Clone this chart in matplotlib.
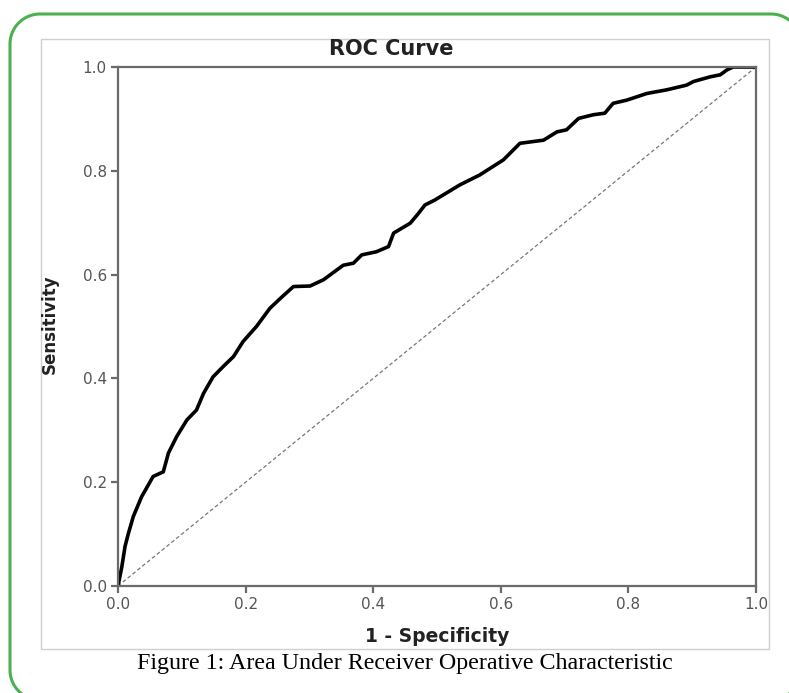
import matplotlib
matplotlib.use("Agg")
import matplotlib.pyplot as plt
import numpy as np
from matplotlib.patches import Polygon, Rectangle

# ROC points (false positive rate, true positive rate)
fpr = [0.0, 0.006, 0.011, 0.016, 0.024, 0.037, 0.055, 0.071, 0.079, 0.092,
       0.108, 0.123, 0.134, 0.149, 0.165, 0.181, 0.196, 0.217, 0.238, 0.257,
       0.275, 0.301, 0.322, 0.353, 0.369, 0.382, 0.405, 0.424, 0.432, 0.458,
       0.471, 0.481, 0.497, 0.536, 0.567, 0.604, 0.630, 0.667, 0.688, 0.703,
       0.722, 0.745, 0.763, 0.776, 0.797, 0.829, 0.860, 0.891, 0.902, 0.928,
       0.944, 0.954, 0.964, 0.996, 1.0]
tpr = [0.0, 0.037, 0.076, 0.100, 0.134, 0.172, 0.211, 0.220, 0.256, 0.288,
       0.320, 0.339, 0.371, 0.403, 0.423, 0.442, 0.471, 0.500, 0.535, 0.557,
       0.577, 0.578, 0.590, 0.618, 0.622, 0.638, 0.644, 0.654, 0.680, 0.699,
       0.718, 0.734, 0.744, 0.773, 0.792, 0.821, 0.853, 0.859, 0.875, 0.879,
       0.901, 0.908, 0.911, 0.930, 0.936, 0.949, 0.956, 0.965, 0.972, 0.981,
       0.985, 0.994, 1.0, 1.0, 1.0]
ticks = [0.0, 0.2, 0.4, 0.6, 0.8, 1.0]
tick_labels = ["0.0", "0.2", "0.4", "0.6", "0.8", "1.0"]

W, H = 789, 693
plt.rcParams["font.family"] = ["DejaVu Sans"]


def rounded_rect(x0, y0, x1, y1, r, n=24):
    # corner arcs in pixel coords, y measured from the top
    pts = []
    corners = [(x1 - r, y0 + r, -90, 0), (x1 - r, y1 - r, 0, 90),
               (x0 + r, y1 - r, 90, 180), (x0 + r, y0 + r, 180, 270)]
    for cx, cy, a0, a1 in corners:
        a = np.radians(np.linspace(a0, a1, n))
        pts += list(zip(cx + r * np.cos(a), cy + r * np.sin(a)))
    return pts


fig = plt.figure(figsize=(W / 100, H / 100), dpi=100)

# background layer in pixel units for the frames
bg = fig.add_axes([0, 0, 1, 1], zorder=0)
bg.set_xlim(0, W)
bg.set_ylim(H, 0)
bg.axis("off")
bg.add_patch(Polygon(rounded_rect(10, 14, 801, 700, 30), closed=True,
                     fill=False, edgecolor="#4cb050", linewidth=2.2))
bg.add_patch(Rectangle((41, 39), 728, 610, fill=False,
                       edgecolor="#cfcfcf", linewidth=1.0))

ax = fig.add_axes([118 / W, 1 - 586 / H, (756 - 118) / W, (586 - 67) / H], zorder=1)
ax.patch.set_alpha(0)
ax.plot([0, 1], [0, 1], color="#777777", linewidth=0.9, dashes=(3, 2))
ax.plot(fpr, tpr, color="black", linewidth=2.6, solid_joinstyle="round")

ax.set_xlim(0, 1)
ax.set_ylim(0, 1)
ax.set_xticks(ticks)
ax.set_xticklabels(tick_labels)
ax.set_yticks(ticks)
ax.set_yticklabels(tick_labels)
for s in ax.spines.values():
    s.set_color("#6a6a6a")
    s.set_linewidth(1.6)
ax.tick_params(direction="out", length=5, width=1.6, color="#6a6a6a",
               labelsize=11, labelcolor="#555555", pad=3)

fig.text(391 / W, 1 - 49 / H, "ROC Curve", ha="center", va="center",
         fontsize=15, fontweight="bold", color="#222222")
fig.text(437 / W, 1 - 636 / H, "1 - Specificity", ha="center", va="center",
         fontsize=13.5, fontweight="bold", color="#222222")
fig.text(50 / W, 1 - 324 / H, "Sensitivity", ha="center", va="center",
         rotation=90, fontsize=12, fontweight="bold", color="#222222")
fig.text(405 / W, 1 - 663 / H,
         "Figure 1: Area Under Receiver Operative Characteristic",
         ha="center", va="center", fontsize=17.3, color="black",
         family=["Liberation Serif", "DejaVu Serif"])

fig.savefig("out.png", dpi=100)
